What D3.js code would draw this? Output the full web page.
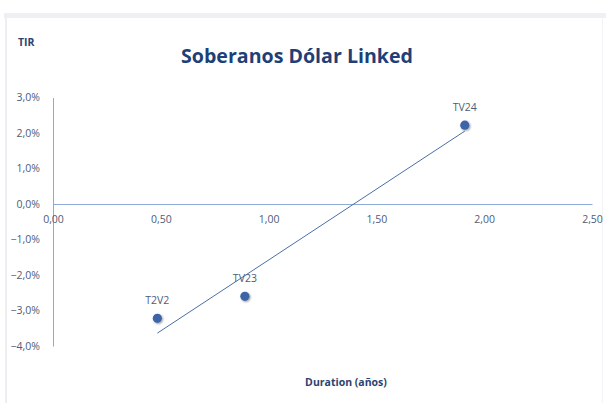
<!DOCTYPE html>
<html><head><meta charset="utf-8">
<script src="https://cdn.jsdelivr.net/npm/d3@7"></script>
<style>body{margin:0;background:#fff}svg{display:block}</style>
</head><body>
<script>
const names = ["T2V2", "TV23", "TV24"];
const duration = [0.484, 0.89, 1.91];
const tir = [-3.22, -2.60, 2.22];
const xTicks = [0, 0.5, 1, 1.5, 2, 2.5];
const yTicks = [3, 2, 1, 0, -1, -2, -3, -4];

const W = 606, H = 403;
const svg = d3.select("body").append("svg").attr("width", W).attr("height", H);

// frame
svg.append("rect").attr("x", 0).attr("y", 0).attr("width", W).attr("height", H).attr("fill", "#fff");
svg.append("rect").attr("x", 4).attr("y", 13).attr("width", 602).attr("height", 5).attr("fill", "#eff0f4");
svg.append("rect").attr("x", 5).attr("y", 13).attr("width", 2).attr("height", 390).attr("fill", "#eceef2");
svg.append("rect").attr("x", 602).attr("y", 18).attr("width", 1).attr("height", 385).attr("fill", "#f2f3f6");

const x = d3.scaleLinear().domain([0, 2.5]).range([53, 592]);
const y = d3.scaleLinear().domain([-4, 3]).range([346, 97.5]);

const axisColor = "#8eaad6";
const textColor = "#4e5d78";
const font = "'Open Sans', sans-serif";

// y axis
const yAxis = svg.append("g").attr("transform", `translate(${x(0)},0)`)
  .call(d3.axisLeft(y).tickValues(yTicks).tickSize(0).tickPadding(13)
    .tickFormat(d => d3.format(".1f")(d).replace(".", ",") + "%"));
yAxis.select(".domain").attr("stroke", axisColor);
yAxis.selectAll("text").attr("fill", textColor).attr("font-family", font).attr("font-size", 10.5);

// x axis
const xAxis = svg.append("g").attr("transform", `translate(0,${y(0)})`)
  .call(d3.axisBottom(x).tickValues(xTicks).tickSize(0).tickPadding(12)
    .tickFormat(d => d3.format(".2f")(d).replace(".", ",")));
xAxis.select(".domain").attr("stroke", axisColor);
xAxis.selectAll("text").attr("fill", textColor).attr("font-family", font).attr("font-size", 10.5);

// trend line (least squares)
const mx = d3.mean(duration), my = d3.mean(tir);
let sxy = 0, sxx = 0;
duration.forEach((d, i) => { sxy += (d - mx) * (tir[i] - my); sxx += (d - mx) ** 2; });
const slope = sxy / sxx, icpt = my - slope * mx;
const x0 = d3.min(duration), x1 = d3.max(duration);
svg.append("line")
  .attr("x1", x(x0)).attr("y1", y(icpt + slope * x0))
  .attr("x2", x(x1)).attr("y2", y(icpt + slope * x1))
  .attr("stroke", "#4a6fa5").attr("stroke-width", 1);

// points
const defs = svg.append("defs");
const f = defs.append("filter").attr("id", "sh").attr("x", "-50%").attr("y", "-50%").attr("width", "200%").attr("height", "200%");
f.append("feGaussianBlur").attr("in", "SourceAlpha").attr("stdDeviation", 1.2).attr("result", "b");
f.append("feOffset").attr("dx", 0.5).attr("dy", 1).attr("result", "o");
f.append("feComponentTransfer").append("feFuncA").attr("type", "linear").attr("slope", 0.4);
const m = f.append("feMerge"); m.append("feMergeNode"); m.append("feMergeNode").attr("in", "SourceGraphic");

svg.selectAll("circle.pt").data(names).enter().append("circle").attr("class", "pt")
  .attr("cx", (d, i) => x(duration[i])).attr("cy", (d, i) => y(tir[i])).attr("r", 4.6)
  .attr("fill", "#3d64a8").attr("filter", "url(#sh)");

svg.selectAll("text.lbl").data(names).enter().append("text").attr("class", "lbl")
  .attr("x", (d, i) => x(duration[i])).attr("y", (d, i) => y(tir[i]) - 14)
  .attr("text-anchor", "middle").attr("fill", textColor).attr("font-family", font).attr("font-size", 10.5)
  .text(d => d);

// titles
svg.append("text").attr("x", 297).attr("y", 63).attr("text-anchor", "middle")
  .attr("font-family", font).attr("font-weight", "bold").attr("font-size", 19.5).attr("fill", "#1f3f76")
  .attr("textLength", 232).attr("lengthAdjust", "spacingAndGlyphs")
  .text("Soberanos Dólar Linked");
svg.append("text").attr("x", 18).attr("y", 46)
  .attr("font-family", font).attr("font-weight", "bold").attr("font-size", 10.5).attr("fill", "#2c4370")
  .text("TIR");
svg.append("text").attr("x", 346).attr("y", 386).attr("text-anchor", "middle")
  .attr("font-family", font).attr("font-weight", "bold").attr("font-size", 10.5).attr("fill", "#2c4370")
  .text("Duration (años)");
</script>
</body></html>
